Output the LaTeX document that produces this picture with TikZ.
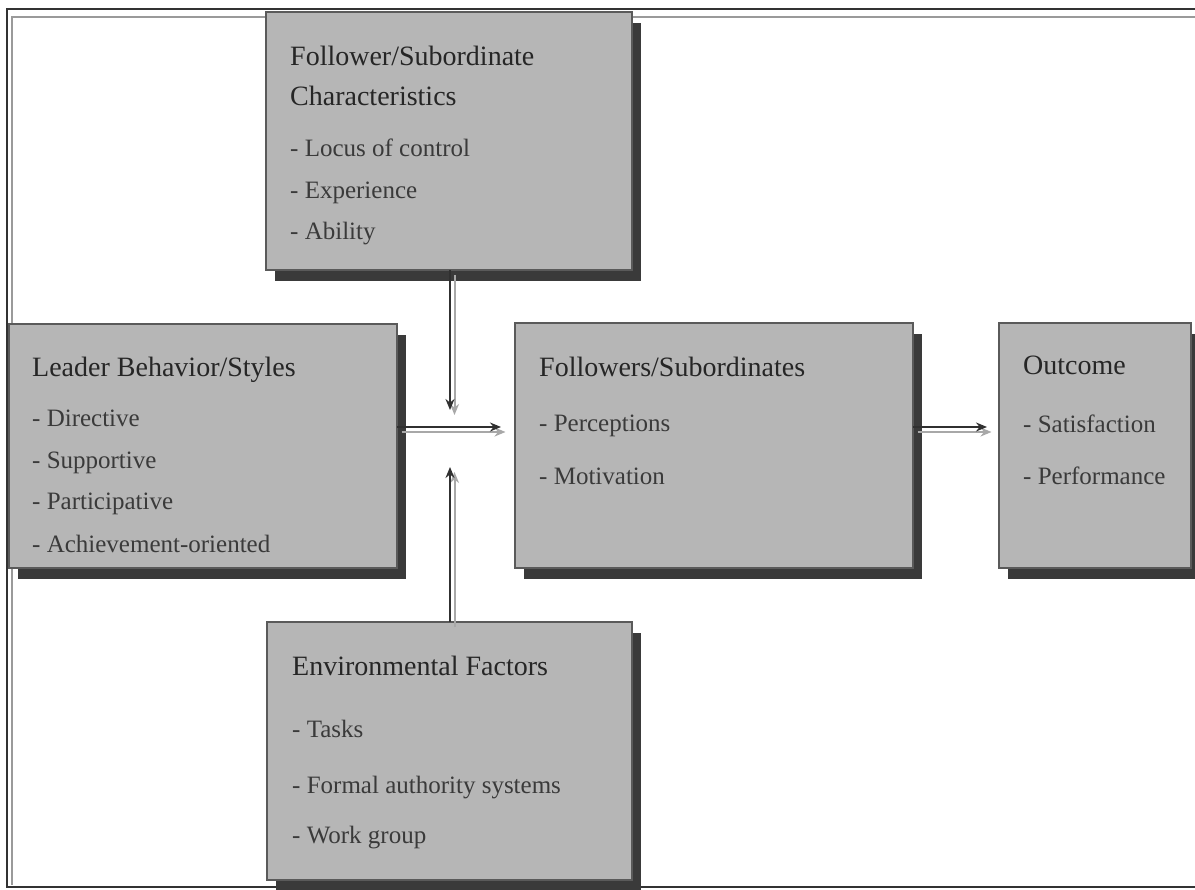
\documentclass[tikz,border=0pt]{standalone}
\usepackage{fontspec}
\setmainfont{Liberation Serif}
\usetikzlibrary{arrows.meta,shadows}
\definecolor{boxfill}{HTML}{B6B6B6}
\definecolor{boxline}{HTML}{5A5A5A}
\definecolor{shadowc}{HTML}{3A3A3A}
\definecolor{headc}{HTML}{262626}
\definecolor{itemc}{HTML}{3A3A3A}
\definecolor{linec}{HTML}{303030}
\definecolor{shadec}{HTML}{A8A8A8}
\definecolor{framedark}{HTML}{333333}
\definecolor{framelight}{HTML}{9A9A9A}
\begin{document}
\begin{tikzpicture}[x=1pt,y=-1pt,
  box/.style={draw=boxline, line width=1.2pt, fill=boxfill, anchor=north west,
    inner sep=0pt, outer sep=0pt,
    drop shadow={shadow xshift=9pt, shadow yshift=-11pt, fill=shadowc, opacity=1}},
  head/.style={anchor=base west, inner sep=0pt, font=\fontsize{28}{34}\selectfont, text=headc},
  item/.style={anchor=base west, inner sep=0pt, font=\fontsize{25}{30}\selectfont, text=itemc},
  link/.style={line width=2pt, draw=linec, -{Stealth[length=11pt,width=9pt]}},
  linkshade/.style={line width=2pt, draw=shadec, -{Stealth[length=11pt,width=9pt]},
    transform canvas={xshift=4.5pt,yshift=-5pt}}]
\useasboundingbox (0,0) rectangle (1195,890);
\fill[white] (0,0) rectangle (1195,890);

% double frame, open on the right
\draw[framelight, line width=1.2pt] (1195,17) -- (12,17) -- (12,885);
\draw[framedark, line width=1.6pt] (1195,9) -- (7,9) -- (7,887) -- (1195,887);

% boxes
\node[box, minimum width=366, minimum height=258] (fsc) at (266,12) {};
\node[box, minimum width=388, minimum height=244] (lbs) at (9,324) {};
\node[box, minimum width=398, minimum height=245] (fs) at (515,323) {};
\node[box, minimum width=192, minimum height=245] (out) at (999,323) {};
\node[box, minimum width=365, minimum height=258] (env) at (267,622) {};

% follower / subordinate characteristics
\node[head] (fscA) at (290,66) {Follower/Subordinate};
\node[head] (fscB) at (290,106) {Characteristics};
\node[item] (fscC) at (290,157) {- Locus of control};
\node[item] (fscD) at (290,199) {- Experience};
\node[item] (fscE) at (290,240) {- Ability};

% leader behavior
\node[head] (lbsA) at (32,377) {Leader Behavior/Styles};
\node[item] (lbsB) at (32,427) {- Directive};
\node[item] (lbsC) at (32,469) {- Supportive};
\node[item] (lbsD) at (32,510) {- Participative};
\node[item] (lbsE) at (32,552) {- Achievement-oriented};

% followers / subordinates
\node[head] (fsA) at (539,377) {Followers/Subordinates};
\node[item] (fsB) at (539,432) {- Perceptions};
\node[item] (fsC) at (539,485) {- Motivation};

% outcome
\node[head] (outA) at (1023,375) {Outcome};
\node[item] (outB) at (1023,433) {- Satisfaction};
\node[item] (outC) at (1023,485) {- Performance};

% environmental factors
\node[head] (envA) at (292,675) {Environmental Factors};
\node[item] (envB) at (292,737) {- Tasks};
\node[item] (envC) at (292,793) {- Formal authority systems};
\node[item] (envD) at (292,843) {- Work group};

% arrow tips
\coordinate (tipA) at (450,410);
\coordinate (tipB) at (501,427);
\coordinate (tipC) at (450,467);
\coordinate (tipD) at (987,427);

% connectors: light offset copy, then the dark line
\draw[linkshade] (fsc.south -| tipA) -- (tipA);
\draw[linkshade] (lbs.east |- tipB) -- (tipB);
\draw[linkshade] (env.north -| tipC) -- (tipC);
\draw[linkshade] (fs.east |- tipD) -- (tipD);
\draw[link] (fsc.south -| tipA) -- (tipA);
\draw[link] (lbs.east |- tipB) -- (tipB);
\draw[link] (env.north -| tipC) -- (tipC);
\draw[link] (fs.east |- tipD) -- (tipD);
\end{tikzpicture}
\end{document}
